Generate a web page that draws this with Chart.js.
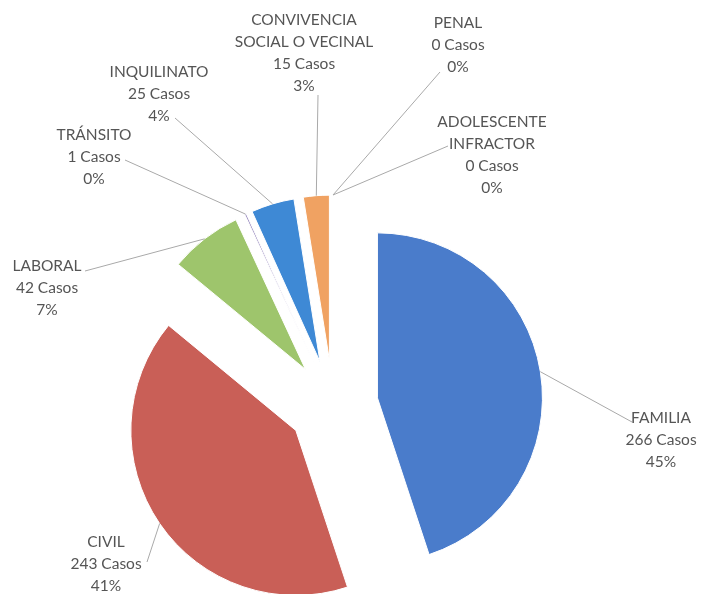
<!DOCTYPE html>
<html>
<head>
<meta charset="utf-8">
<script src="https://cdn.jsdelivr.net/npm/chart.js@4.4.1/dist/chart.umd.min.js"></script>
<style>
  html, body { margin: 0; padding: 0; background: #fff; }
  #wrap { width: 704px; height: 594px; position: relative; }
</style>
</head>
<body>
<div id="wrap"><canvas id="pie-chart"></canvas></div>
<script>
// data
var categories = ['FAMILIA', 'CIVIL', 'LABORAL', 'TRÁNSITO', 'INQUILINATO',
    ['CONVIVENCIA', 'SOCIAL O VECINAL'], 'PENAL', ['ADOLESCENTE', 'INFRACTOR']];
var casos = [266, 243, 42, 1, 25, 15, 0, 0];
var colores = ['#4a7ccb', '#c95f57', '#9ec56c', '#9a8cc0', '#3e89d5', '#f0a262', '#888888', '#888888'];

// where each label sits and where its leader line stops
var labelPos = [[661, 418], [106, 542], [47, 266], [94, 135], [159, 72], [304, 20], [458, 23], [492, 122]];
var leaderEnd = [[632, 422], [147, 562], [85, 271], [125, 160], [175, 118], [318, 95], [440, 72], [448, 146]];

var EXPLODE = 45;
var LINE_H = 22;

var total = casos.reduce(function (a, b) { return a + b; }, 0);

// push every slice away from the centre along its mid angle
var explodePlugin = {
    id: 'explode',
    beforeDatasetsDraw: function (chart) {
        var area = chart.chartArea;
        var cx = (area.left + area.right) / 2;
        var cy = (area.top + area.bottom) / 2;
        chart.getDatasetMeta(0).data.forEach(function (arc) {
            var mid = (arc.startAngle + arc.endAngle) / 2;
            arc.x = cx + Math.cos(mid) * EXPLODE;
            arc.y = cy + Math.sin(mid) * EXPLODE;
        });
    }
};

var labelPlugin = {
    id: 'pieLabels',
    afterDatasetsDraw: function (chart) {
        var ctx = chart.ctx;
        var arcs = chart.getDatasetMeta(0).data;
        ctx.save();
        arcs.forEach(function (arc, i) {
            var mid = (arc.startAngle + arc.endAngle) / 2;
            var ax = arc.x + Math.cos(mid) * arc.outerRadius;
            var ay = arc.y + Math.sin(mid) * arc.outerRadius;
            ctx.strokeStyle = '#a9a9a9';
            ctx.lineWidth = 1;
            ctx.beginPath();
            ctx.moveTo(ax, ay);
            ctx.lineTo(leaderEnd[i][0], leaderEnd[i][1]);
            ctx.stroke();

            var lines = [].concat(categories[i]);
            lines.push(casos[i] + ' Casos');
            lines.push(Math.round(casos[i] / total * 100) + '%');
            ctx.fillStyle = '#555555';
            ctx.font = '15.5px Lato';
            ctx.textAlign = 'center';
            ctx.textBaseline = 'middle';
            lines.forEach(function (t, k) {
                ctx.fillText(t, labelPos[i][0], labelPos[i][1] + k * LINE_H);
            });
        });
        ctx.restore();
    }
};

var ctx = document.getElementById('pie-chart').getContext('2d');
var pieChart = new Chart(ctx, {
    type: 'pie',
    data: {
        labels: categories,
        datasets: [{
            data: casos,
            backgroundColor: colores,
            borderColor: '#ffffff',
            borderWidth: 1
        }]
    },
    options: {
        responsive: true,
        maintainAspectRatio: false,
        animation: false,
        radius: 165,
        layout: {
            padding: { left: 0, right: 38, top: 216, bottom: 0 }
        },
        plugins: {
            legend: { display: false },
            tooltip: { enabled: false }
        }
    },
    plugins: [explodePlugin, labelPlugin]
});
</script>
</body>
</html>
